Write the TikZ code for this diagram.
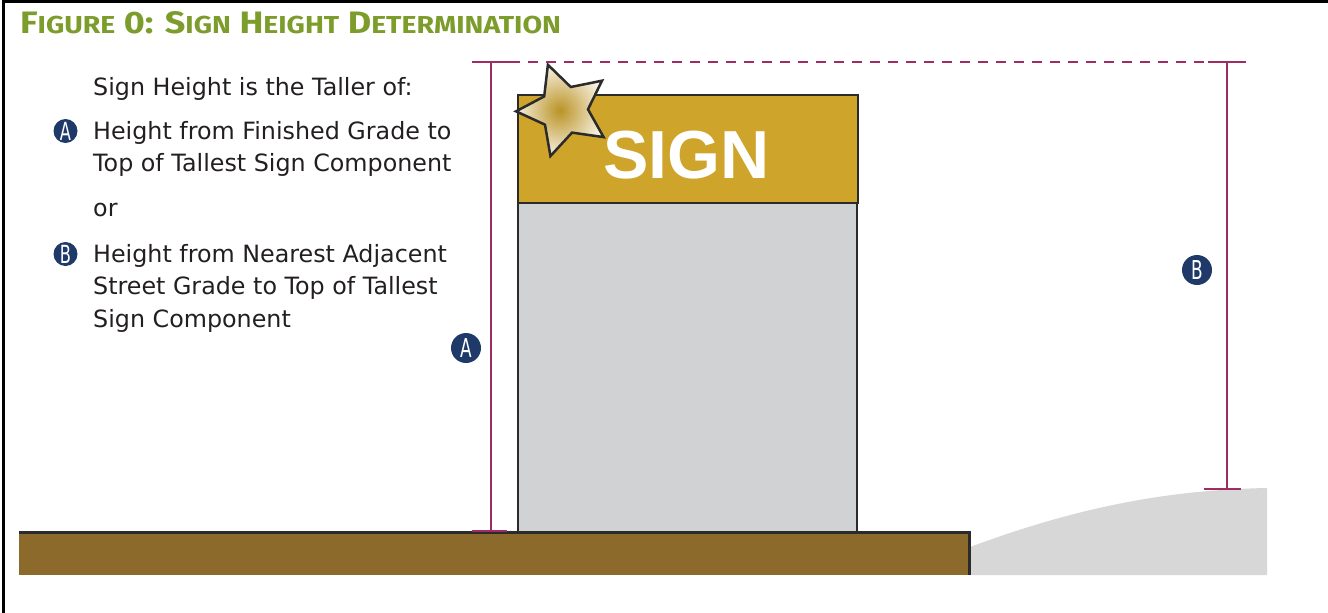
\documentclass[tikz,border=0pt]{standalone}
\usepackage{fontspec}
\usepackage{xcolor}
\usepackage{tikz}
\usetikzlibrary{shapes.geometric}
\setmainfont{DejaVu Sans}
\newfontfamily\signfont{Liberation Sans}
\newfontfamily\titlefont{Fira Sans}

\definecolor{titlegreen}{HTML}{7C9C2B}
\definecolor{navy}{HTML}{1F3A68}
\definecolor{dimred}{HTML}{A02C64}
\definecolor{signgold}{HTML}{CFA42B}
\definecolor{cabgray}{HTML}{D1D2D4}
\definecolor{earth}{HTML}{8C6A2C}
\definecolor{mound}{HTML}{D7D7D7}
\definecolor{edge}{HTML}{2B2B2B}
\definecolor{ink}{HTML}{231F20}
\definecolor{cream}{HTML}{F6F0E0}

\newcommand{\tsm}[1]{{\fontsize{24.5}{24.5}\selectfont #1}}
\newcommand{\bletter}[1]{\scalebox{0.65}[1]{#1}}

\begin{document}
\begin{tikzpicture}[x=1pt,y=-1pt,
          body/.style={anchor=base west,inner sep=0pt,text=ink,font=\fontsize{23.8}{32}\selectfont},
          badge/.style={circle,fill=navy,text=white,inner sep=0pt,minimum size=24pt,font=\fontsize{25}{25}\selectfont},
          bigbadge/.style={badge,minimum size=30pt,font=\fontsize{26}{26}\selectfont},
          dim/.style={dimred,line width=2.5pt},
          box/.style={draw=edge,line width=2pt}]
        \useasboundingbox (0,0) rectangle (1328,613);
        \draw[line width=3pt] (3.5,613) -- (3.5,1.5) -- (1328,1.5);
        % title
        \node[anchor=base west,inner sep=0pt,text=titlegreen,font=\titlefont\bfseries\fontsize{31}{31}\selectfont] (title) at (20,33)
          {\scalebox{1.16}[1]{F\tsm{IGURE} 0: S\tsm{IGN} H\tsm{EIGHT} D\tsm{ETERMINATION}}};
        % explanation
        \node[body] (t0) at (93,95)    {Sign Height is the Taller of:};
        \node[body] (t1) at (93,139)   {Height from Finished Grade to};
        \node[body] (t2) at (93,171.5) {Top of Tallest Sign Component};
        \node[body] (t3) at (93,216.5) {or};
        \node[body] (t4) at (93,262)   {Height from Nearest Adjacent};
        \node[body] (t5) at (93,294.5) {Street Grade to Top of Tallest};
        \node[body] (t6) at (93,327)   {Sign Component};
        \node[badge] (ka) at (65.5,131) {\bletter{A}};
        \node[badge] (kb) at (65.5,254) {\bletter{B}};
        % ground and street
        \fill[mound] (970,547) .. controls (1070,510) and (1160,490) .. (1267,488) -- (1267,575) -- (970,575) -- cycle;
        \fill[earth] (19,532) rectangle (969,575);
        \draw[edge,line width=3pt] (19,532) -- (969,532) -- (969,575);
        % cabinet and sign face
        \filldraw[box,fill=cabgray] (518,203) rectangle (857,532);
        \filldraw[box,fill=signgold] (518,95) rectangle (858,203);
        \node[anchor=base,inner sep=0pt,text=white,font=\signfont\bfseries\fontsize{68}{68}\selectfont] (sign) at (686.5,178) {SIGN};
        \node[star,star points=5,star point ratio=2,minimum size=96pt,inner sep=0pt,rotate=19.6,
              draw=edge,line width=2.5pt,inner color=signgold!90!black,outer color=cream] (topper) at (564,110) {};
        % dimensions
        \coordinate (atop) at (491,62);
        \coordinate (abot) at (491,531);
        \coordinate (btop) at (1227,62);
        \coordinate (bbot) at (1227,489);
        \draw[dim] (atop) -- (abot);
        \draw[dim] ([xshift=-19pt]atop) -- ([xshift=19pt]atop);
        \draw[dim] ([xshift=-19pt]abot) -- ([xshift=16pt]abot);
        \draw[dim] (btop) -- (bbot);
        \draw[dim] ([xshift=-19pt]btop) -- ([xshift=19pt]btop);
        \draw[dim] ([xshift=-23pt]bbot) -- ([xshift=14pt]bbot);
        \draw[dim,dash pattern=on 10pt off 8pt] ([xshift=19pt]atop) -- ([xshift=-19pt]btop);
        \node[bigbadge] (da) at (466,348) {\bletter{A}};
        \node[bigbadge] (db) at (1197,270) {\bletter{B}};
      \end{tikzpicture}
\end{document}
